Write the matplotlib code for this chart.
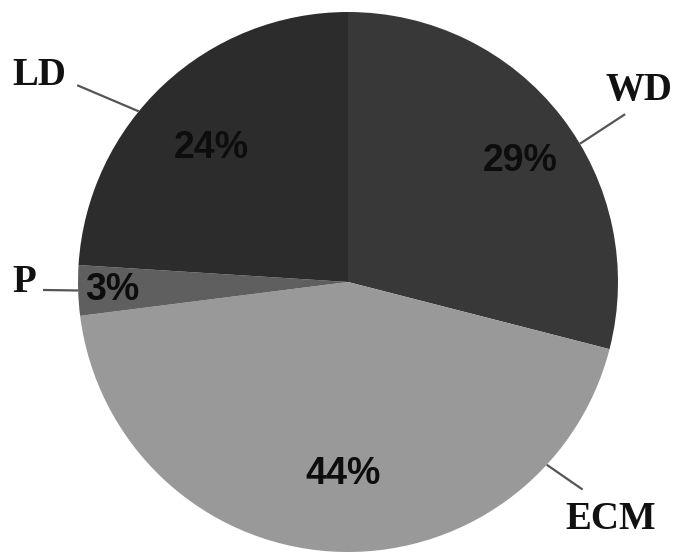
import numpy as np
import matplotlib
matplotlib.use('Agg')
import matplotlib.pyplot as plt

# slice data, clockwise from 12 o'clock
names = ['WD', 'ECM', 'P', 'LD']
shares = [29, 44, 3, 24]

# styling
colors = ['#383838', '#999999', '#5f5f5f', '#2c2c2c']
pct_dist = [0.78, 0.71, 0.875, 0.71]      # radius fraction of the % text
pct_shift = [-2.7, 2.1, 0.2, 2.4]         # degrees off slice middle
edge_ang = [30.8, -42.6, -178.2, 140.8]   # where the leader touches the pie
end_r = [1.20, 1.16, 1.13, 1.24]          # leader end radius
end_ang = [31.2, -41.5, -178.5, 144.0]
txt_r = [1.29, 1.31, 1.20, 1.375]         # label centre radius
txt_ang = [33.3, -42.1, -180.0, 146.2]

W, H = 675, 556
cx, cy, R = 348, H - 282, 270

fig = plt.figure(figsize=(W / 100, H / 100), dpi=100)
ax = fig.add_axes([0, 0, 1, 1])
ax.set_xlim(0, W)
ax.set_ylim(0, H)
ax.set_aspect('equal')
ax.axis('off')

wedges, _ = ax.pie(shares, colors=colors, startangle=90, counterclock=False,
                   center=(cx, cy), radius=R,
                   wedgeprops=dict(linewidth=0))
ax.set_xlim(0, W)
ax.set_ylim(0, H)

for i, w in enumerate(wedges):
    mid = np.deg2rad((w.theta1 + w.theta2) / 2 + pct_shift[i])
    r = R * pct_dist[i]
    ax.text(cx + r * np.cos(mid), cy + r * np.sin(mid), '%d%%' % shares[i],
            ha='center', va='center', fontsize=27, fontweight='bold',
            family='Liberation Sans', color='#0d0d0d')

    a0, a1, a2 = np.deg2rad([edge_ang[i], end_ang[i], txt_ang[i]])
    ax.plot([cx + R * np.cos(a0), cx + R * end_r[i] * np.cos(a1)],
            [cy + R * np.sin(a0), cy + R * end_r[i] * np.sin(a1)],
            color='#555555', lw=1.6, solid_capstyle='butt')
    ax.text(cx + R * txt_r[i] * np.cos(a2), cy + R * txt_r[i] * np.sin(a2),
            names[i], ha='center', va='center', fontsize=28,
            fontweight='bold', family='Liberation Serif', color='#111111')

fig.savefig('out.png', dpi=100)
